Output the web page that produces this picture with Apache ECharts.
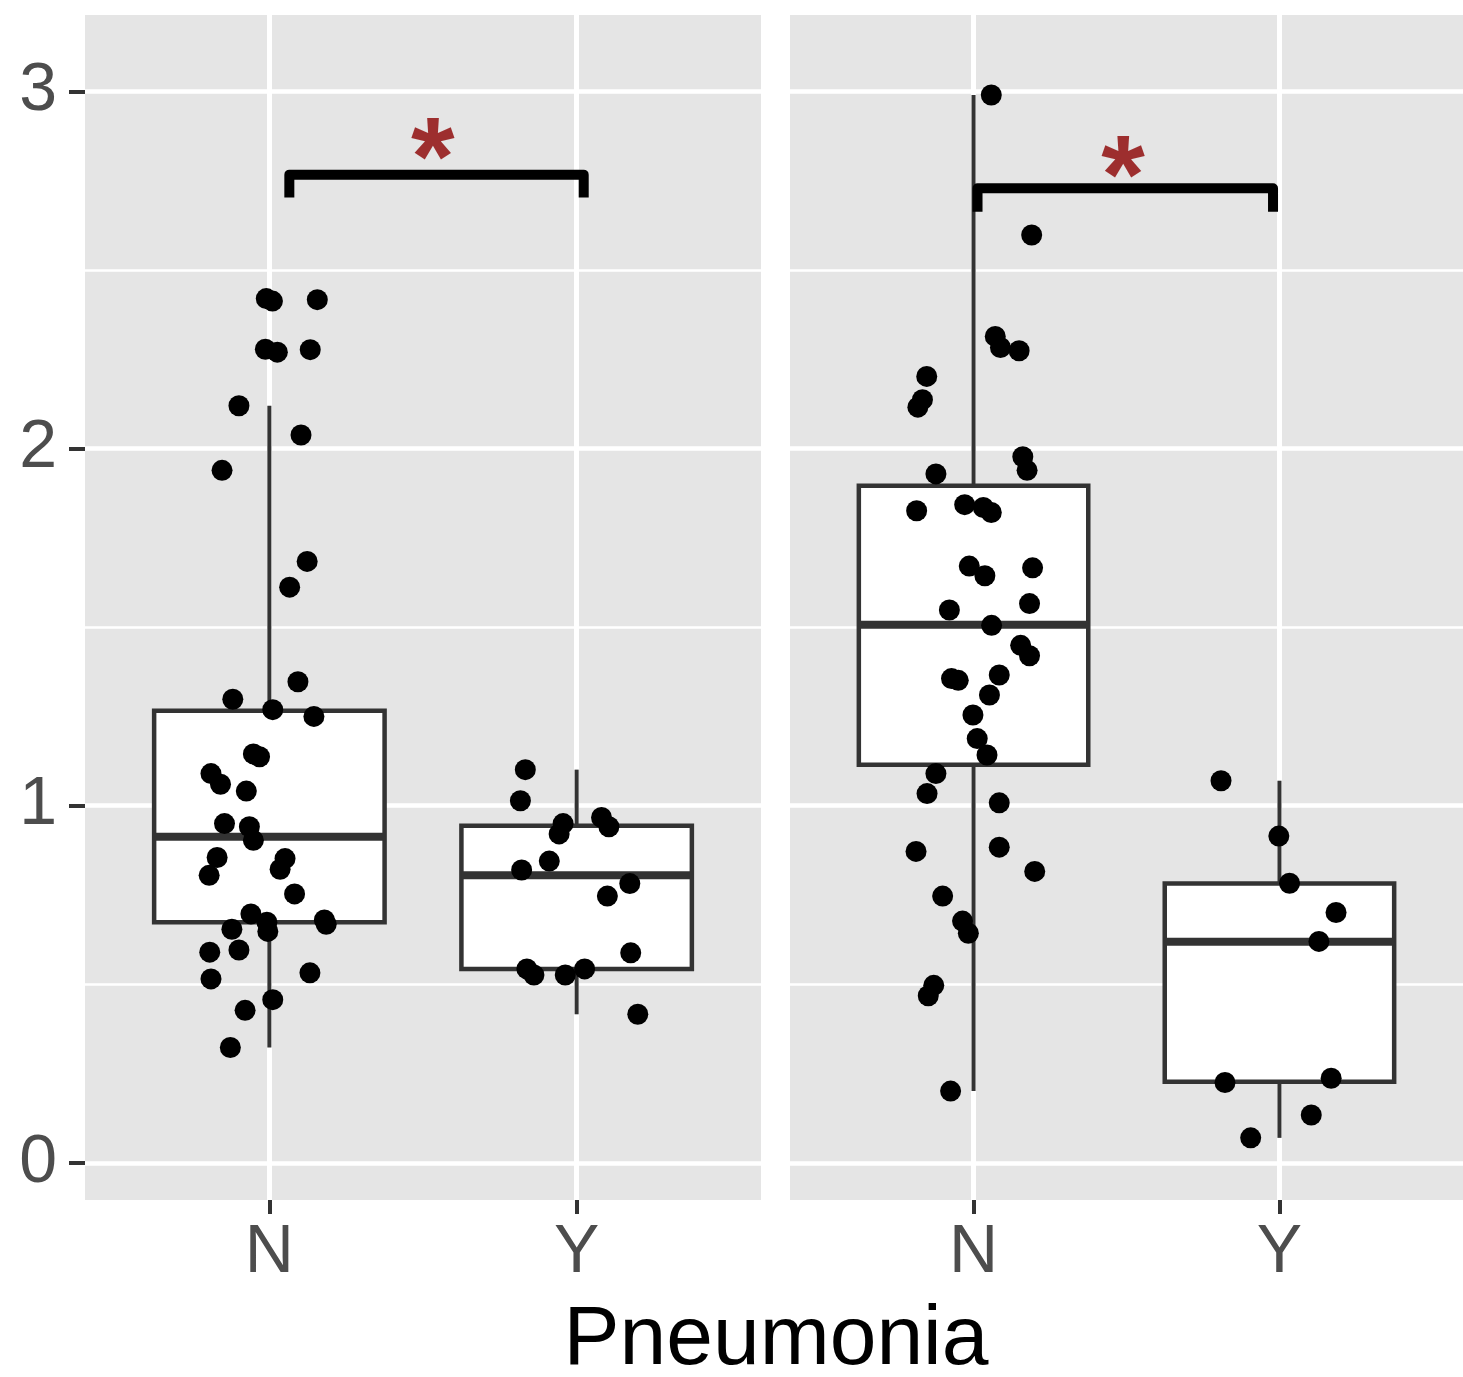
<!DOCTYPE html>
<html>
<head>
<meta charset="utf-8">
<script src="https://cdn.jsdelivr.net/npm/echarts@6/dist/echarts.min.js"></script>
<style>
  html, body { margin: 0; padding: 0; background: #ffffff; }
  #chart { width: 1463px; height: 1377px; }
</style>
</head>
<body>
<div id="chart"></div>
<script>
// Category labels on the x axis of each panel (positions 1 and 2)
const groups = ['N', 'Y'];
const yTicks = [0, 1, 2, 3];
const yMinor = [0.5, 1.5, 2.5];
const xTicks = [1, 2];

// Box statistics: [position, lower whisker, Q1, median, Q3, upper whisker]
const boxesLeft = [
  [1, 0.323, 0.674, 0.913, 1.266, 2.12],
  [2, 0.416, 0.543, 0.805, 0.944, 1.101]
];
const boxesRight = [
  [1, 0.201, 1.115, 1.507, 1.896, 2.99],
  [2, 0.07, 0.227, 0.619, 0.782, 1.07]
];

// Jittered observations: [group position + jitter, value]
const pointsLeftN = [
  [0.990, 2.420], [1.010, 2.413], [1.156, 2.417], [0.987, 2.278], [1.026, 2.270],
  [1.133, 2.277], [0.901, 2.120], [1.103, 2.038], [0.846, 1.939], [1.123, 1.684],
  [1.066, 1.612], [1.093, 1.347], [0.881, 1.298], [1.011, 1.269], [1.145, 1.250],
  [0.948, 1.145], [0.968, 1.137], [0.810, 1.090], [0.841, 1.060], [0.925, 1.041],
  [0.854, 0.950], [0.935, 0.941], [0.948, 0.903], [0.830, 0.855], [1.051, 0.852],
  [1.035, 0.822], [0.804, 0.805], [1.082, 0.753], [0.940, 0.697], [0.992, 0.674],
  [0.878, 0.654], [0.995, 0.648], [1.179, 0.680], [1.185, 0.668], [0.806, 0.590],
  [0.901, 0.596], [0.810, 0.515], [1.132, 0.532], [1.011, 0.457], [0.921, 0.427],
  [0.873, 0.323]
];
const pointsLeftY = [
  [1.833, 1.101], [1.817, 1.014], [1.956, 0.950], [1.943, 0.921], [2.081, 0.967],
  [2.105, 0.941], [1.911, 0.845], [1.821, 0.820], [2.173, 0.782], [2.100, 0.747],
  [2.176, 0.588], [1.838, 0.543], [1.861, 0.526], [1.963, 0.526], [2.026, 0.543],
  [2.199, 0.416]
];
const pointsRightN = [
  [1.058, 2.990], [1.190, 2.598], [1.071, 2.314], [1.088, 2.283], [1.149, 2.274],
  [0.847, 2.202], [0.833, 2.137], [0.818, 2.116], [1.161, 1.977], [1.175, 1.939],
  [0.877, 1.929], [0.814, 1.826], [0.971, 1.843], [1.032, 1.835], [1.058, 1.821],
  [0.986, 1.671], [1.037, 1.644], [1.193, 1.666], [0.921, 1.548], [1.183, 1.566],
  [1.059, 1.505], [1.154, 1.449], [1.183, 1.420], [0.928, 1.356], [0.950, 1.351],
  [1.084, 1.366], [1.052, 1.310], [0.998, 1.254], [1.012, 1.188], [1.044, 1.142],
  [0.877, 1.090], [0.848, 1.034], [1.084, 1.008], [0.812, 0.872], [1.084, 0.884],
  [1.200, 0.816], [0.899, 0.747], [0.964, 0.677], [0.983, 0.643], [0.870, 0.497],
  [0.852, 0.468], [0.925, 0.201]
];
const pointsRightY = [
  [1.809, 1.070], [1.998, 0.915], [2.033, 0.783], [2.185, 0.701], [2.129, 0.620],
  [1.822, 0.225], [2.169, 0.237], [2.104, 0.134], [1.906, 0.070]
];

// Significance brackets: [left leg, right leg, bar level, leg end]
const bracketLeft = [1.065, 2.023, 2.767, 2.703];
const bracketRight = [1.013, 1.979, 2.729, 2.663];
// Significance marks: [position, level, text]
const sigLeft = [1.532, 2.797, '*'];
const sigRight = [1.489, 2.747, '*'];

const FONT = '"Liberation Sans", Arial, Helvetica, sans-serif';
const INK = '#333333';
const Y_MIN = -0.104, Y_MAX = 3.214;
const BOX_HALF = 0.375;

function renderBox(params, api) {
  const x = api.value(0);
  const lo = api.value(1), q1 = api.value(2), med = api.value(3), q3 = api.value(4), hi = api.value(5);
  const pHi = api.coord([x, hi]);
  const pQ3 = api.coord([x, q3]);
  const pQ1 = api.coord([x, q1]);
  const pLo = api.coord([x, lo]);
  const tl = api.coord([x - BOX_HALF, q3]);
  const br = api.coord([x + BOX_HALF, q1]);
  const m1 = api.coord([x - BOX_HALF, med]);
  const m2 = api.coord([x + BOX_HALF, med]);
  return {
    type: 'group',
    children: [
      { type: 'line', shape: { x1: pHi[0], y1: pHi[1], x2: pQ3[0], y2: pQ3[1] },
        style: { stroke: INK, lineWidth: 4 } },
      { type: 'line', shape: { x1: pQ1[0], y1: pQ1[1], x2: pLo[0], y2: pLo[1] },
        style: { stroke: INK, lineWidth: 4 } },
      { type: 'rect', shape: { x: tl[0], y: tl[1], width: br[0] - tl[0], height: br[1] - tl[1] },
        style: { fill: '#ffffff', stroke: INK, lineWidth: 4.5 } },
      { type: 'line', shape: { x1: m1[0], y1: m1[1], x2: m2[0], y2: m2[1] },
        style: { stroke: INK, lineWidth: 8 } }
    ]
  };
}

function xAxisFor(gridIndex) {
  return {
    gridIndex: gridIndex,
    type: 'value',
    position: 'bottom',
    min: 0.4,
    max: 2.6,
    axisLine: { show: false, onZero: false },
    axisTick: { show: true, customValues: xTicks, length: 14, lineStyle: { color: INK, width: 4 } },
    axisLabel: {
      show: true, customValues: xTicks, margin: 19,
      formatter: v => groups[Math.round(v) - 1],
      fontSize: 68, color: '#4D4D4D', fontFamily: FONT
    },
    splitLine: { show: true, lineStyle: { color: '#ffffff', width: 5 } }
  };
}

function yAxisMajor(gridIndex, showLabels) {
  return {
    gridIndex: gridIndex,
    type: 'value',
    position: 'left',
    min: Y_MIN,
    max: Y_MAX,
    axisLine: { show: false, onZero: false },
    axisTick: { show: showLabels, customValues: yTicks, length: 16, lineStyle: { color: INK, width: 4 } },
    axisLabel: {
      show: showLabels, customValues: yTicks, margin: 28,
      fontSize: 68, color: '#4D4D4D', fontFamily: FONT
    },
    splitLine: { show: true, lineStyle: { color: '#ffffff', width: 4.5 } }
  };
}

function yAxisMinor(gridIndex) {
  return {
    gridIndex: gridIndex,
    type: 'value',
    min: Y_MIN,
    max: Y_MAX,
    axisLine: { show: false, onZero: false },
    axisTick: { show: false, customValues: yMinor },
    axisLabel: { show: false, customValues: yMinor },
    splitLine: { show: true, lineStyle: { color: '#ffffff', width: 2.5 } }
  };
}

function panelSeries(xi, yi, boxes, ptsN, ptsY, bracket, sig) {
  return [
    {
      type: 'custom', xAxisIndex: xi, yAxisIndex: yi,
      renderItem: renderBox,
      encode: { x: 0, y: [1, 2, 3, 4, 5] },
      data: boxes, z: 2, silent: true
    },
    {
      type: 'scatter', xAxisIndex: xi, yAxisIndex: yi,
      data: ptsN.concat(ptsY),
      symbol: 'circle', symbolSize: 21,
      itemStyle: { color: '#000000', opacity: 1 },
      z: 3, silent: true
    },
    {
      type: 'line', xAxisIndex: xi, yAxisIndex: yi,
      data: [[bracket[0], bracket[3]], [bracket[0], bracket[2]], [bracket[1], bracket[2]], [bracket[1], bracket[3]]],
      symbol: 'none',
      lineStyle: { color: '#000000', width: 10, join: 'round', cap: 'butt' },
      z: 4, silent: true, animation: false
    },
    {
      type: 'scatter', xAxisIndex: xi, yAxisIndex: yi,
      data: [[sig[0], sig[1]]],
      symbol: 'circle', symbolSize: 1,
      itemStyle: { color: 'rgba(0,0,0,0)' },
      label: {
        show: true, position: 'inside', formatter: sig[2],
        fontSize: 112, fontWeight: 'bold', color: '#8B0000', fontFamily: FONT
      },
      z: 5, silent: true
    }
  ];
}

const chart = echarts.init(document.getElementById('chart'), null, { renderer: 'canvas' });
chart.setOption({
  animation: false,
  backgroundColor: '#ffffff',
  grid: [
    { left: 85, top: 15, width: 676, height: 1185, show: true, backgroundColor: '#E5E5E5', borderWidth: 0 },
    { left: 790, top: 15, width: 676, height: 1185, show: true, backgroundColor: '#E5E5E5', borderWidth: 0 }
  ],
  xAxis: [xAxisFor(0), xAxisFor(1)],
  yAxis: [yAxisMajor(0, true), yAxisMinor(0), yAxisMajor(1, false), yAxisMinor(1)],
  series: [].concat(
    panelSeries(0, 0, boxesLeft, pointsLeftN, pointsLeftY, bracketLeft, sigLeft),
    panelSeries(1, 2, boxesRight, pointsRightN, pointsRightY, bracketRight, sigRight)
  ),
  graphic: [
    {
      type: 'text', x: 776, y: 1341,
      style: {
        text: 'Pneumonia', font: '84px ' + FONT, fill: '#000000',
        align: 'center', verticalAlign: 'middle',
        textAlign: 'center', textVerticalAlign: 'middle'
      }
    }
  ]
});
</script>
</body>
</html>
